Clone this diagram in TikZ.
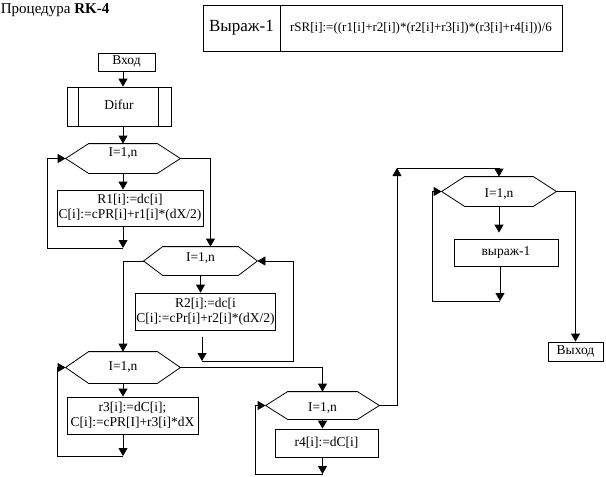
\documentclass[tikz,border=0pt]{standalone}
\usepackage{fontspec}
\setmainfont{Liberation Serif}
\usetikzlibrary{arrows.meta,positioning}
\newcommand\smalltxt{\fontsize{13.5}{15}\selectfont}

\tikzset{
  blk/.style={draw, inner sep=1pt, align=center, font=\smalltxt},
  hexa/.style={inner sep=0pt, font=\smalltxt},
  >={Triangle[length=8pt,width=9pt]},
}

\begin{document}
\begin{tikzpicture}[x=1pt,y=-1pt,line width=0.8pt]
\useasboundingbox (0,0) rectangle (606,477);
% title and the header table
\node[anchor=base west, inner sep=0pt, font=\fontsize{15}{17}\selectfont] (title) at (0.5,13) {Процедура \textbf{RK-4}};
\node[draw, minimum width=77, minimum height=46, font=\fontsize{17}{19}\selectfont] (hdr) at (241.5,28) {Выраж-1};
\node[draw, right=-0.8pt of hdr, minimum width=282, minimum height=46, font=\fontsize{13}{15}\selectfont] (frm)
  {rSR[i]:=((r1[i]+r2[i])*(r2[i]+r3[i])*(r3[i]+r4[i]))/6};
% blocks
\node[blk, minimum width=57, minimum height=18] (entry) at (126.5,62) {\raisebox{3pt}{Вход}};
\node[blk, minimum width=104, minimum height=39] (difur) at (119,106.5) {\raisebox{3pt}{Difur}};
\draw ([xshift=12pt]difur.north west) -- ([xshift=12pt]difur.south west);
\draw ([xshift=-13pt]difur.north east) -- ([xshift=-13pt]difur.south east);
\node[blk, minimum width=146, minimum height=36] (b1) at (130,208) {R1[i]:=dc[i]\\C[i]:=cPR[i]+r1[i]*(dX/2)};
\node[blk, minimum width=137, minimum height=37] (b2) at (205.5,311.5) {R2[i]:=dc[i\\C[i]:=cPr[i]+r2[i]*(dX/2)};
\node[blk, minimum width=131, minimum height=37] (b3) at (132.5,415.5) {r3[i]:=dC[i];\\C[i]:=cPR[I]+r3[i]*dX};
\node[blk, minimum width=103, minimum height=28] (b4) at (326.5,443) {r4[i]:=dC[i]};
\node[blk, minimum width=104, minimum height=27] (b5) at (506,252.5) {выраж-1};
\node[blk, minimum width=55, minimum height=19] (exit) at (575.5,351.5) {Выход};
% loop hexagons: name/x/y/top width/height/run/text shift
\foreach \n/\x/\y/\w/\h/\r/\t in {h1/123/158.5/68/29/23/5, h2/200.5/261/75/28/19/3,
  h3/123/367.5/68/31/23/0, h4/322.5/405.5/69/27/22/-3, h5/499/191.5/68/29/23/-3}{
  \node[hexa, minimum width=\w, minimum height=\h] (\n) at (\x,\y) {};
  \node[hexa] (\n-t) at ([yshift=\t pt]\n) {I=1,n};
  \draw (\n.north west) -- (\n.north east) -- ([xshift=\r pt]\n.east) coordinate (\n-r)
    -- (\n.south east) -- (\n.south west) -- ([xshift=-\r pt]\n.west) coordinate (\n-l) -- cycle;
}
% loop ends
\coordinate (l1) at (123,248);
\coordinate (l2) at (202,361);
\coordinate (l3) at (123,456);
\coordinate (l4) at (322.5,474);
\coordinate (l5) at (500,301);
\coordinate (up) at (397,168);
% connectors
\draw[->] (entry.south -| h1.north) -- (difur.north -| h1.north);
\draw[->] (difur.south -| h1.north) -- (h1.north);
\draw[->] (h1.south) -- (b1.north -| h1.south);
\draw[->] (b1.south -| l1) -- (l1);
\draw[->] (l1) -| ([xshift=-18pt]h1-l) -- (h1-l);
\draw[->] (h1-r) -| ([xshift=10pt]h2.north);
\draw[->] (h2.south) -- (b2.north -| h2.south);
\draw[->] ([yshift=-7pt]b2.south -| l2) -- (l2);
\draw[->] (l2) -| ([xshift=36pt]h2-r) -- (h2-r);
\draw[->] (h2-l) -| (h3.north);
\draw[->] (h3.south) -- (b3.north -| h3.south);
\draw[->] (b3.south -| l3) -- (l3);
\draw[->] (l3) -| ([xshift=-8pt]h3-l) -- (h3-l);
\draw[->] (h3-r) -| (h4.north);
\draw[->] (h4.south) -- (b4.north -| h4.south);
\draw[->] (b4.south -| l4) -- (l4);
\draw[->] (l4) -| ([xshift=-10pt]h4-l) -- (h4-l);
\draw[->] (h4-r) -| (up);
\draw[->] (up) -| (h5.north);
\draw[->] (h5.south) -- ([yshift=6pt]b5.north -| h5.south);
\draw[->] (b5.south -| l5) -- (l5);
\draw[->] (l5) -| ([xshift=-9pt]h5-l) -- (h5-l);
\draw[->] (h5-r) -| (exit.north);
\end{tikzpicture}
\end{document}
